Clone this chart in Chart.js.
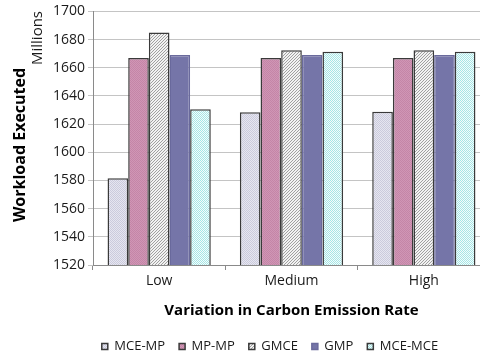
<!DOCTYPE html>
<html>
<head>
<meta charset="utf-8">
<script src="https://cdn.jsdelivr.net/npm/chart.js@4"></script>
<style>
  html, body { margin: 0; padding: 0; background: #fff; overflow: hidden; }
  #wrap { width: 490px; height: 361px; }
</style>
</head>
<body>
<div id="wrap"><canvas id="workChart"></canvas></div>
<script>
// Chart data (values in millions)
const categories = ['Low', 'Medium', 'High'];
const seriesNames = ['MCE-MP', 'MP-MP', 'GMCE', 'GMP', 'MCE-MCE'];
const mceMp  = [1581.5, 1628.5, 1628.8];
const mpMp   = [1667, 1667, 1667];
const gmce   = [1685, 1672.5, 1672.5];
const gmp    = [1669, 1669, 1669];
const mceMce = [1630.5, 1671.3, 1671.3];
const yTicks = [1520, 1540, 1560, 1580, 1600, 1620, 1640, 1660, 1680, 1700];

const FONT = "'Open Sans', 'Liberation Sans', sans-serif";

// Small pattern fills, roughly like the Excel ones
function makePattern(size, draw) {
  const c = document.createElement('canvas');
  c.width = size; c.height = size;
  const g = c.getContext('2d');
  draw(g, size);
  return document.getElementById('workChart').getContext('2d').createPattern(c, 'repeat');
}

const dotsLavender = makePattern(2, (g) => {
  g.fillStyle = '#e6e6f0'; g.fillRect(0, 0, 2, 2);
  g.fillStyle = '#cbcbdd'; g.fillRect(0, 0, 1, 1); g.fillRect(1, 1, 1, 1);
});
const dotsPink = makePattern(2, (g) => {
  g.fillStyle = '#d096b5'; g.fillRect(0, 0, 2, 2);
  g.fillStyle = '#c485a7'; g.fillRect(0, 0, 1, 1); g.fillRect(1, 1, 1, 1);
});
const hatchGray = makePattern(3, (g) => {
  g.fillStyle = '#f2f2f2'; g.fillRect(0, 0, 3, 3);
  g.fillStyle = '#a0a0a0';
  for (let i = 0; i < 3; i++) g.fillRect(i, 2 - i, 1, 1);
});
const dotsCyan = makePattern(2, (g) => {
  g.fillStyle = '#f4fcfc'; g.fillRect(0, 0, 2, 2);
  g.fillStyle = '#a6e6e6'; g.fillRect(0, 0, 1, 1); g.fillRect(1, 1, 1, 1);
});

const fills = [dotsLavender, dotsPink, hatchGray, '#7575a8', dotsCyan];
const borders = ['#3a3a3a', '#3a3a3a', '#3a3a3a', '#6a6a9c', '#3a3a3a'];
const values = [mceMp, mpMp, gmce, gmp, mceMce];

// Axis captions on the left side, and a nudge of the legend to the right
const sideLabels = {
  id: 'sideLabels',
  afterLayout(chart) {
    chart.legend.left += 25;
    chart.legend.right += 25;
  },
  afterDraw(chart) {
    const ctx = chart.ctx;
    ctx.save();
    ctx.fillStyle = '#000';
    ctx.textAlign = 'center';
    ctx.textBaseline = 'middle';
    ctx.translate(20, 145);
    ctx.rotate(-Math.PI / 2);
    ctx.font = 'bold 16px ' + FONT;
    ctx.fillText('Workload Executed', 0, 0);
    ctx.restore();

    ctx.save();
    ctx.fillStyle = '#1a1a1a';
    ctx.textAlign = 'center';
    ctx.textBaseline = 'middle';
    ctx.translate(38, 38);
    ctx.rotate(-Math.PI / 2);
    ctx.font = '15px ' + FONT;
    ctx.fillText('Millions', 0, 0);
    ctx.restore();
  }
};

const ctx = document.getElementById('workChart').getContext('2d');
const workChart = new Chart(ctx, {
  type: 'bar',
  data: {
    labels: categories,
    datasets: seriesNames.map((name, i) => ({
      label: name,
      data: values[i],
      backgroundColor: fills[i],
      borderColor: borders[i],
      borderWidth: 1.5,
      categoryPercentage: 0.78,
      barPercentage: 1.0
    }))
  },
  options: {
    responsive: true,
    maintainAspectRatio: false,
    animation: false,
    layout: { padding: { top: 4, left: 0, right: 0, bottom: -2 } },
    scales: {
      y: {
        min: 1520,
        max: 1700,
        afterBuildTicks: (scale) => { scale.ticks = yTicks.map(v => ({ value: v })); },
        afterFit: (scale) => { scale.width = 93; },
        ticks: {
          font: { family: FONT, size: 14 },
          color: '#1a1a1a',
          padding: 3,
          callback: (v) => String(v)
        },
        grid: { color: '#c4c4c4', lineWidth: 1, tickLength: 5 },
        border: { color: '#8a8a8a' }
      },
      x: {
        afterFit: (scale) => { scale.height = 61; },
        ticks: {
          font: { family: FONT, size: 14 },
          color: '#1a1a1a',
          padding: 3
        },
        grid: { offset: true, drawOnChartArea: false, tickLength: 5, color: '#8a8a8a' },
        border: { color: '#8a8a8a' },
        title: {
          display: true,
          text: 'Variation in Carbon Emission Rate',
          font: { family: FONT, size: 15, weight: 'bold' },
          color: '#000',
          padding: { top: 4, bottom: 6 }
        }
      }
    },
    plugins: {
      legend: {
        position: 'bottom',
        labels: {
          font: { family: FONT, size: 13 },
          color: '#1a1a1a',
          boxWidth: 6,
          boxHeight: 6,
          padding: 14
        }
      },
      tooltip: { enabled: false }
    }
  },
  plugins: [sideLabels]
});
</script>
</body>
</html>
